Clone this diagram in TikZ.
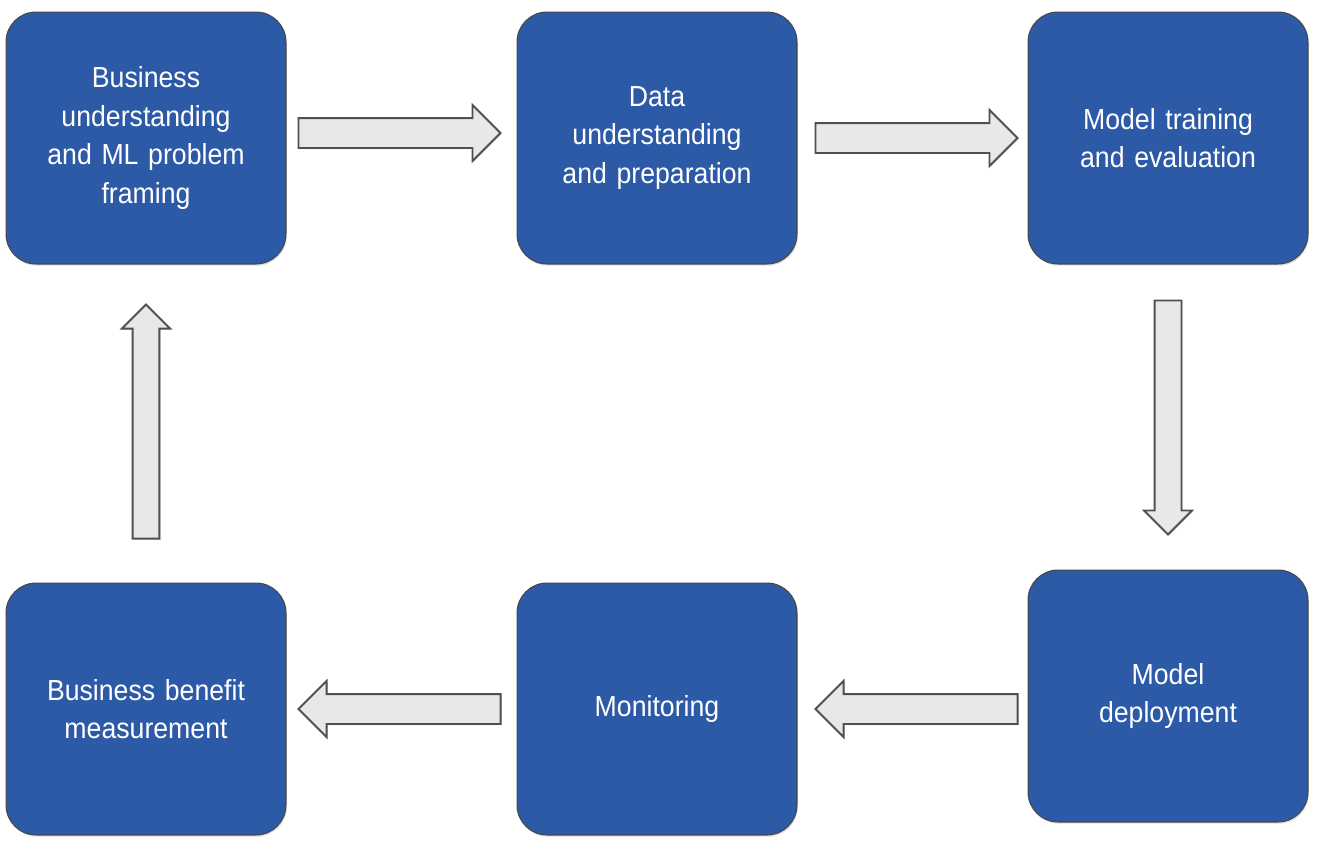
\documentclass[tikz,border=0pt]{standalone}
\usepackage{fontspec}
\setmainfont{Liberation Sans}[FakeStretch=0.92]
\usetikzlibrary{shapes.arrows,calc,shadows}
\definecolor{boxblue}{HTML}{2D5AA7}
\definecolor{boxline}{HTML}{474747}
\definecolor{arrowfill}{HTML}{E8E8E8}
\definecolor{arrowline}{HTML}{505050}
\tikzset{
  stage/.style={draw=boxline, line width=0.6pt, fill=boxblue, rounded corners=0.6cm,
    minimum width=5.6cm, minimum height=5.04cm, text width=5cm, align=center,
    text=white, font=\fontsize{16.5}{22}\selectfont,
    drop shadow={opacity=0.25, shadow xshift=0.5pt, shadow yshift=-1pt}},
  flowh/.style={single arrow, draw=arrowline, line width=1.1pt, fill=arrowfill,
    anchor=tail, minimum height=4.04cm, inner sep=0.28cm, single arrow head extend=0.26cm,
    drop shadow={opacity=0.3, shadow xshift=0.6pt, shadow yshift=-0.6pt}},
  flowv/.style={single arrow, draw=arrowline, line width=1.1pt, fill=arrowfill,
    anchor=tail, minimum height=4.68cm, inner sep=0.25cm, single arrow head extend=0.21cm,
    drop shadow={opacity=0.3, shadow xshift=0.6pt, shadow yshift=-0.6pt}}
}
\begin{document}
\begin{tikzpicture}[x=0.02cm, y=-0.02cm]
  \useasboundingbox (0,0) rectangle (1319,843);
  \node[stage] (busi) at (146, 138) {Business\\ understanding\\ and ML problem\\ framing};
  \node[stage] (data) at (657, 138) {Data\\ understanding\\ and preparation};
  \node[stage] (train) at (1168, 138) {Model training\\ and evaluation};
  \node[stage] (deploy) at (1168, 696) {Model\\ deployment};
  \node[stage] (monit) at (657, 709) {Monitoring};
  \node[stage] (benefit) at (146, 709) {Business benefit\\ measurement};

  \node[flowh] (a1) at ($(busi.east)+(11,-5)$) {};
  \node[flowh] (a2) at ($(data.east)+(17,0)$) {};
  \node[flowv, rotate=-90] (a3) at ($(train.south)+(0,35)$) {};
  \node[flowh, rotate=180] (a4) at ($(deploy.west |- monit.east)+(-9,0)$) {};
  \node[flowh, rotate=180] (a5) at ($(monit.west)+(-15,0)$) {};
  \node[flowv, rotate=90] (a6) at ($(benefit.north)+(0,-43)$) {};
\end{tikzpicture}
\end{document}
